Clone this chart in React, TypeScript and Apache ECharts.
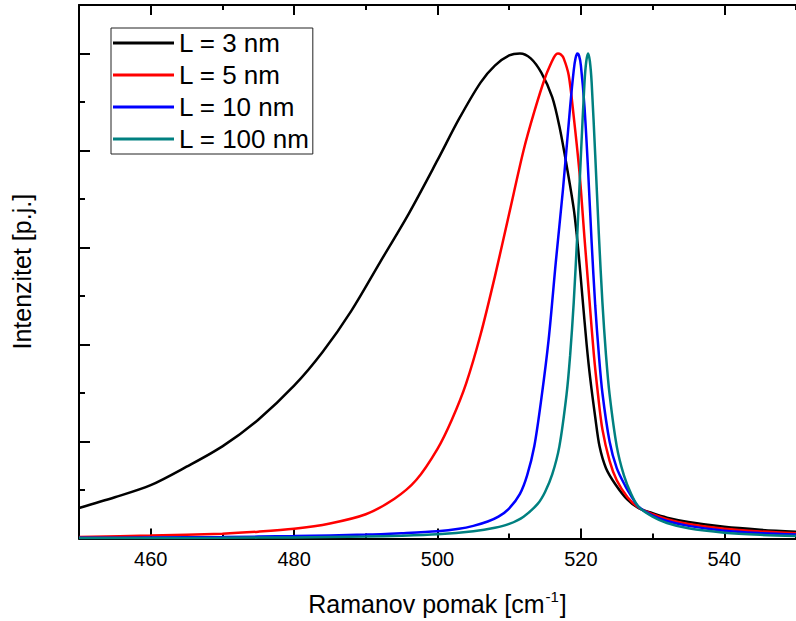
import React, { useEffect, useRef } from "react";
import * as echarts from "echarts";

const X_MIN = 450;
const X_MAX = 550;
const Y_MIN = 0;
const Y_MAX = 1.1;
const X_MAJOR_TICKS = [460, 480, 500, 520, 540];
const X_MINOR_TICKS = [470, 490, 510, 530, 550];
const Y_MAJOR_TICKS = [0, 0.2, 0.4, 0.6, 0.8, 1.0];
const Y_MINOR_TICKS = [0.1, 0.3, 0.5, 0.7, 0.9];

const SERIES_NAMES = ["L = 3 nm", "L = 5 nm", "L = 10 nm", "L = 100 nm"];
const SERIES_COLORS = ["#000000", "#ff0000", "#0000ff", "#008080"];

const L3: [number, number][] = [
  [450, 0.063], [455, 0.085], [460, 0.11], [465, 0.148], [470, 0.19], [475, 0.245],
  [480, 0.315], [484, 0.385], [488, 0.47], [492, 0.57], [496, 0.67], [500, 0.78],
  [503, 0.865], [506, 0.94], [508, 0.975], [510, 0.996], [511.5, 1.0], [513, 0.99],
  [514.5, 0.96], [516, 0.91], [517, 0.85], [518, 0.77], [519, 0.68], [519.6, 0.6],
  [520.2, 0.5], [520.8, 0.4], [521.3, 0.33], [522, 0.25], [522.6, 0.19], [523.5, 0.145],
  [524.8, 0.112], [526.5, 0.08], [528, 0.063], [530, 0.052], [532, 0.043], [535, 0.034],
  [540, 0.024], [545, 0.018], [550, 0.014],
];

const L5: [number, number][] = [
  [450, 0.003], [460, 0.006], [470, 0.01], [475, 0.014], [480, 0.02], [485, 0.031],
  [490, 0.05], [494, 0.082], [497, 0.12], [500, 0.185], [502, 0.245], [504, 0.32],
  [506, 0.42], [508, 0.54], [510, 0.67], [512, 0.8], [513.5, 0.88], [515, 0.95],
  [516, 0.985], [516.4, 0.996], [516.8, 1.0], [517.2, 0.998], [517.6, 0.99], [518.3, 0.955],
  [519, 0.87], [519.8, 0.755], [520.5, 0.62], [521.2, 0.49], [521.8, 0.38], [522.4, 0.295],
  [523, 0.225], [524, 0.16], [525, 0.12], [526.5, 0.085], [528, 0.064], [530, 0.05],
  [532, 0.04], [535, 0.03], [540, 0.02], [545, 0.0145], [550, 0.011],
];

const L10: [number, number][] = [
  [450, 0.0015], [460, 0.002], [470, 0.003], [480, 0.005], [490, 0.008], [495, 0.011],
  [500, 0.015], [503, 0.02], [505, 0.026], [507, 0.035], [508.5, 0.045], [510, 0.062],
  [511.5, 0.092], [512.5, 0.13], [513.5, 0.19], [514.5, 0.29], [515.5, 0.41], [516.5, 0.57],
  [517.5, 0.72], [518.5, 0.89], [519, 0.965], [519.25, 0.99], [519.5, 1.0], [519.75, 0.995],
  [520, 0.975], [520.5, 0.89], [521, 0.76], [521.5, 0.61], [522, 0.48], [522.5, 0.38],
  [523, 0.3], [524, 0.2], [525, 0.145], [526.2, 0.108], [527, 0.088], [528, 0.066],
  [530, 0.047], [532, 0.036], [535, 0.026], [540, 0.016], [545, 0.011], [550, 0.008],
];

const L100: [number, number][] = [
  [450, 0.0008], [460, 0.001], [470, 0.0015], [480, 0.0023], [490, 0.004], [495, 0.0056],
  [500, 0.0086], [505, 0.015], [508, 0.022], [510, 0.03], [512, 0.045], [514, 0.072],
  [515, 0.096], [516, 0.132], [517, 0.19], [518, 0.297], [518.5, 0.378], [519, 0.487],
  [519.5, 0.628], [520, 0.79], [520.5, 0.94], [520.75, 0.984], [521, 1.0], [521.25, 0.984],
  [521.5, 0.94], [522, 0.79], [522.5, 0.628], [523, 0.487], [523.5, 0.378], [524, 0.297],
  [525, 0.19], [526, 0.13], [527, 0.092], [528, 0.066], [530, 0.045], [532, 0.032],
  [535, 0.021], [540, 0.012], [545, 0.0075], [550, 0.005],
];

const SERIES_DATA = [L3, L5, L10, L100];

const FONT = "'Liberation Sans', Arial, Helvetica, sans-serif";

export default function App() {
  const ref = useRef<HTMLDivElement>(null);

  useEffect(() => {
    if (!ref.current) return;
    const chart = echarts.init(ref.current, null, { renderer: "svg" });

    const baseX = {
      type: "value",
      min: X_MIN,
      max: X_MAX,
      splitLine: { show: false },
    };
    const baseY = {
      type: "value",
      min: Y_MIN,
      max: Y_MAX,
      splitLine: { show: false },
    };
    const axisLine = { show: true, lineStyle: { color: "#000", width: 2 } };
    const noLine = { show: false };

    chart.setOption({
      animation: false,
      backgroundColor: "#ffffff",
      textStyle: { fontFamily: FONT },
      grid: { left: 79, right: -9, top: 5, bottom: 82, containLabel: false },
      legend: {
        show: true,
        orient: "vertical",
        left: 111,
        top: 28,
        padding: [2, 3, 2, 2],
        itemGap: 6,
        itemWidth: 61,
        itemHeight: 3,
        icon: "rect",
        borderColor: "#222",
        borderWidth: 1,
        backgroundColor: "#fff",
        textStyle: { fontSize: 26, color: "#000", fontFamily: FONT },
        data: SERIES_NAMES,
      },
      xAxis: [
        {
          ...baseX,
          position: "bottom",
          axisLine,
          axisTick: { show: true, inside: true, length: 10, lineStyle: { color: "#000", width: 2 }, customValues: X_MAJOR_TICKS },
          axisLabel: { show: true, fontSize: 20, color: "#000", margin: 10, fontFamily: FONT, customValues: X_MAJOR_TICKS },
          name: "{a|Ramanov pomak [cm}{b|-1}{a|]}",
          nameLocation: "middle",
          nameGap: 50,
          nameTextStyle: {
            fontFamily: FONT,
            fontSize: 25,
            color: "#000",
            rich: {
              a: { fontSize: 25, fontFamily: FONT, color: "#000", lineHeight: 30 },
              b: { fontSize: 15, fontFamily: FONT, color: "#000", verticalAlign: "top", lineHeight: 30, padding: [0, 1, 0, 1] },
            },
          },
        },
        {
          ...baseX,
          position: "bottom",
          axisLine: noLine,
          axisTick: { show: true, inside: true, length: 5, lineStyle: { color: "#000", width: 2 }, customValues: X_MINOR_TICKS },
          axisLabel: { show: false },
        },
        {
          ...baseX,
          position: "top",
          axisLine,
          axisTick: { show: true, inside: true, length: 10, lineStyle: { color: "#000", width: 2 }, customValues: X_MAJOR_TICKS },
          axisLabel: { show: false },
        },
        {
          ...baseX,
          position: "top",
          axisLine: noLine,
          axisTick: { show: true, inside: true, length: 5, lineStyle: { color: "#000", width: 2 }, customValues: X_MINOR_TICKS },
          axisLabel: { show: false },
        },
      ],
      yAxis: [
        {
          ...baseY,
          position: "left",
          axisLine,
          axisTick: { show: true, inside: true, length: 11, lineStyle: { color: "#000", width: 2 }, customValues: Y_MAJOR_TICKS },
          axisLabel: { show: false },
          name: "Intenzitet [p.j.]",
          nameLocation: "middle",
          nameGap: 45,
          nameTextStyle: { fontFamily: FONT, fontSize: 25, color: "#000" },
        },
        {
          ...baseY,
          position: "left",
          axisLine: noLine,
          axisTick: { show: true, inside: true, length: 6, lineStyle: { color: "#000", width: 2 }, customValues: Y_MINOR_TICKS },
          axisLabel: { show: false },
        },
      ],
      series: SERIES_NAMES.map((name, i) => ({
        name,
        type: "line",
        xAxisIndex: 0,
        yAxisIndex: 0,
        data: SERIES_DATA[i],
        symbol: "none",
        showSymbol: false,
        smooth: 0.3,
        color: SERIES_COLORS[i],
        lineStyle: { color: SERIES_COLORS[i], width: 2.5 },
        clip: true,
        z: 2 + i,
      })),
    });

    return () => {
      chart.dispose();
    };
  }, []);

  return (
    <div
      ref={ref}
      style={{ position: "fixed", left: 0, top: 0, width: 796, height: 621, background: "#fff" }}
    />
  );
}
